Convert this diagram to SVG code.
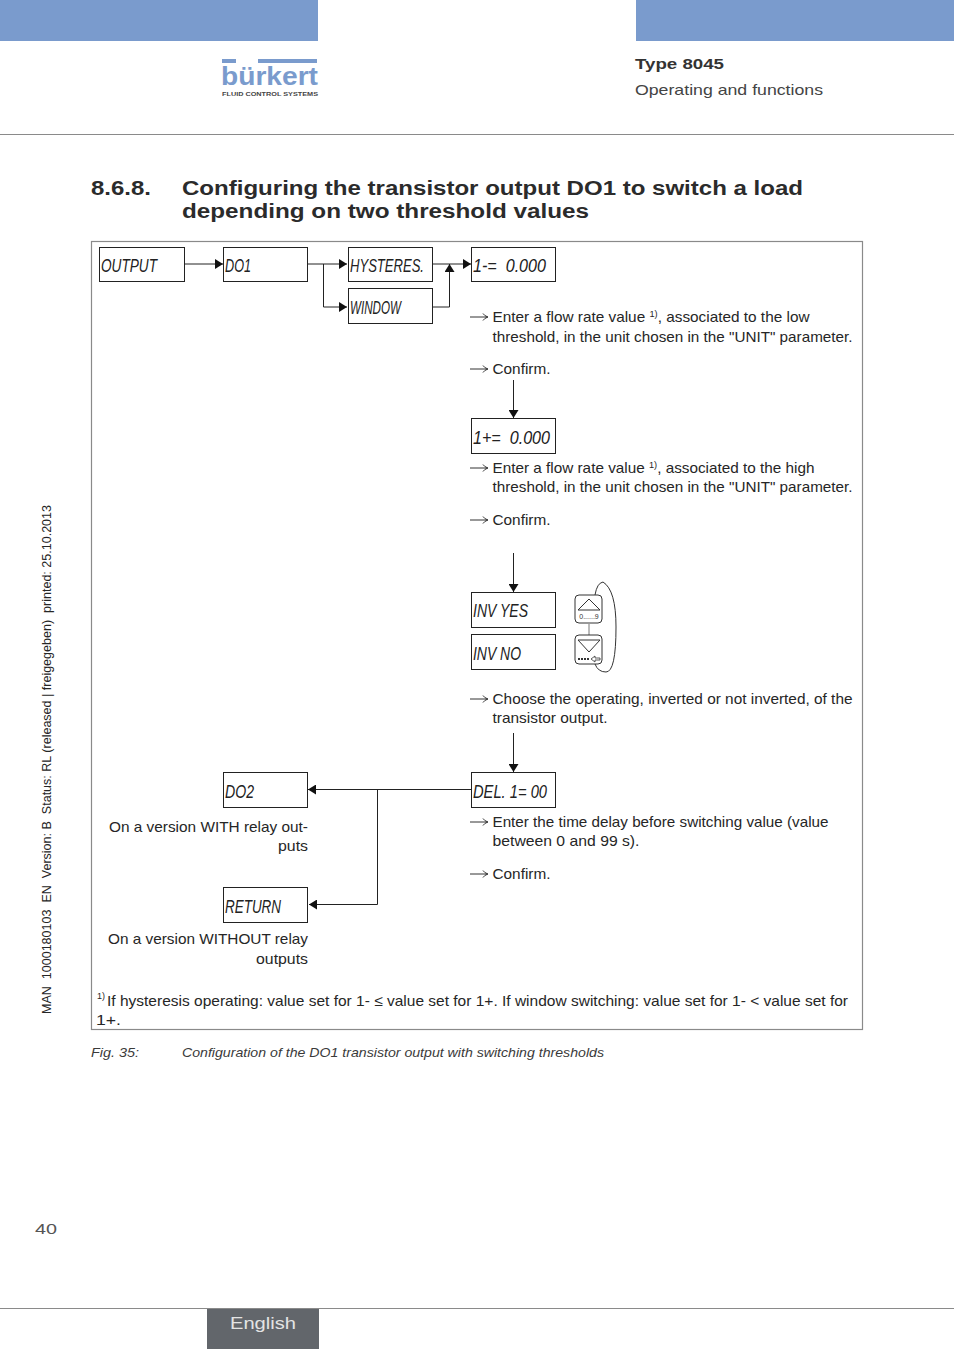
<svg xmlns="http://www.w3.org/2000/svg" width="954" height="1350" viewBox="0 0 954 1350">
<style>
text{font-family:"Liberation Sans",Arial,sans-serif;fill:#262626}
.b{font-size:15px}
.h{font-size:20px;font-weight:bold;fill:#2b2b2b}
.cap{font-size:13.5px;font-style:italic;fill:#3a3a3a}
.lcd{font-style:italic;font-size:18px;fill:#222;white-space:pre}
.box{fill:#fff;stroke:#222;stroke-width:1}
.c{fill:none;stroke:#222;stroke-width:1}
.ar{fill:none;stroke:#333;stroke-width:1}
</style>
<defs>
<marker id="a" markerWidth="9" markerHeight="10" refX="8" refY="5" orient="auto" markerUnits="userSpaceOnUse"><path d="M0 0L8 5L0 10z" fill="#111"/></marker>
<path id="t" d="M0 0H17.500M13 -3.500Q14.500 -1 18 0Q14.500 1 13 3.500" class="ar"/>
</defs>
<g id="page">
<rect x="0" y="0" width="318" height="41" fill="#7a9bcd"/>
<rect x="636" y="0" width="318" height="41" fill="#7a9bcd"/>
<line x1="0" y1="134.500" x2="954" y2="134.500" stroke="#8a8a8a"/>
<line x1="0" y1="1308.500" x2="954" y2="1308.500" stroke="#8a8a8a"/>
<rect x="207" y="1309" width="112" height="40" fill="#62666b"/>
<text x="230" y="1329" font-size="16" style="fill:#e4e4e4" textLength="66" lengthAdjust="spacingAndGlyphs">English</text>
<text x="35" y="1234" font-size="14" textLength="22" lengthAdjust="spacingAndGlyphs" style="fill:#555">40</text>
<text transform="translate(51,1014) rotate(-90)" font-size="12" textLength="509" lengthAdjust="spacingAndGlyphs" style="white-space:pre">MAN  1000180103  EN  Version: B  Status: RL (released | freigegeben)  printed: 25.10.2013</text>
<g id="logo">
<rect x="222" y="59" width="14" height="4" fill="#7a9bcd"/><rect x="258" y="59" width="59" height="4" fill="#7a9bcd"/>
<text x="221" y="85" font-size="26" font-weight="bold" style="fill:#7a9bcd" textLength="97" lengthAdjust="spacingAndGlyphs">bürkert</text>
<text x="222" y="95.500" font-size="5.500" font-weight="bold" style="fill:#444" textLength="96" lengthAdjust="spacingAndGlyphs">FLUID CONTROL SYSTEMS</text>
</g>
<text x="635" y="69" font-size="15" font-weight="bold" textLength="89" lengthAdjust="spacingAndGlyphs" style="fill:#333">Type 8045</text>
<text x="635" y="95" font-size="15" textLength="188" lengthAdjust="spacingAndGlyphs" style="fill:#444">Operating and functions</text>
<text x="91" y="195" class="h" textLength="60" lengthAdjust="spacingAndGlyphs">8.6.8.</text>
<text x="182" y="195" class="h" textLength="621" lengthAdjust="spacingAndGlyphs">Configuring the transistor output DO1 to switch a load</text>
<text x="182" y="218" class="h" textLength="407" lengthAdjust="spacingAndGlyphs">depending on two threshold values</text>
<rect x="91.500" y="241.500" width="771" height="788" fill="none" stroke="#8a8a8a" stroke-width="1.200"/>
<text x="91" y="1057" class="cap" textLength="48" lengthAdjust="spacingAndGlyphs">Fig. 35:</text>
<text x="182" y="1057" class="cap" textLength="422" lengthAdjust="spacingAndGlyphs">Configuration of the DO1 transistor output with switching thresholds</text>
</g>
<g id="connectors">
<path class="c" d="M185 264H223" marker-end="url(#a)"/>
<path class="c" d="M308 264H347" marker-end="url(#a)"/>
<path class="c" d="M323.500 264V307H347" marker-end="url(#a)"/>
<path class="c" d="M433 264H471" marker-end="url(#a)"/>
<path class="c" d="M433 307H449.500V264" marker-end="url(#a)"/>
<path class="c" d="M513.500 380V418" marker-end="url(#a)"/>
<path class="c" d="M513.500 553V592" marker-end="url(#a)"/>
<path class="c" d="M513.500 733V772" marker-end="url(#a)"/>
<path class="c" d="M471 789.500H308" marker-end="url(#a)"/>
<path class="c" d="M377.500 789.500V904.500H309" marker-end="url(#a)"/>
</g>
<g id="n-output"><rect class="box" x="99.500" y="247.500" width="85" height="34"/><text class="lcd" x="101" y="272" textLength="56" lengthAdjust="spacingAndGlyphs">OUTPUT</text></g>
<g id="n-do1"><rect class="box" x="223.500" y="247.500" width="84" height="34"/><text class="lcd" x="225" y="272" textLength="26" lengthAdjust="spacingAndGlyphs">DO1</text></g>
<g id="n-hysteres"><rect class="box" x="348.500" y="247.500" width="84" height="34"/><text class="lcd" x="350" y="272" textLength="74" lengthAdjust="spacingAndGlyphs">HYSTERES.</text></g>
<g id="n-window"><rect class="box" x="348.500" y="288.500" width="84" height="35"/><text class="lcd" x="350" y="314" textLength="51" lengthAdjust="spacingAndGlyphs">WINDOW</text></g>
<g id="n-low"><rect class="box" x="471.500" y="247.500" width="84" height="34"/><text class="lcd" x="473" y="272" textLength="73" lengthAdjust="spacingAndGlyphs">1-=  0.000</text></g>
<g id="n-high"><rect class="box" x="471.500" y="418.500" width="84" height="35"/><text class="lcd" x="473" y="444" textLength="77" lengthAdjust="spacingAndGlyphs">1+=  0.000</text></g>
<g id="n-invyes"><rect class="box" x="471.500" y="592.500" width="84" height="35"/><text class="lcd" x="473" y="617" textLength="55" lengthAdjust="spacingAndGlyphs">INV YES</text></g>
<g id="n-invno"><rect class="box" x="471.500" y="634.500" width="84" height="35"/><text class="lcd" x="473" y="660" textLength="48" lengthAdjust="spacingAndGlyphs">INV NO</text></g>
<g id="n-del"><rect class="box" x="471.500" y="772.500" width="84" height="35"/><text class="lcd" x="473" y="798" textLength="74" lengthAdjust="spacingAndGlyphs">DEL. 1= 00</text></g>
<g id="n-do2"><rect class="box" x="223.500" y="772.500" width="84" height="35"/><text class="lcd" x="225" y="798" textLength="29" lengthAdjust="spacingAndGlyphs">DO2</text></g>
<g id="n-return"><rect class="box" x="223.500" y="887.500" width="84" height="35"/><text class="lcd" x="225" y="913" textLength="56" lengthAdjust="spacingAndGlyphs">RETURN</text></g>
<g id="keys">
<path d="M595 595Q597 583 603 582Q616 590 616 627Q616 672 606 672Q598 672 595 664" fill="none" stroke="#333"/>
<line x1="589" y1="624" x2="589" y2="635" stroke="#777"/>
<rect x="575" y="595" width="27" height="28" rx="4" fill="#fff" stroke="#333"/>
<path d="M578 610L589 599L600 610Z" fill="none" stroke="#333"/>
<text x="589" y="619" text-anchor="middle" font-size="7" style="fill:#333">0......9</text>
<rect x="575" y="635" width="27" height="29" rx="4" fill="#fff" stroke="#333"/>
<path d="M578 640L589 652L600 640Z" fill="none" stroke="#333"/>
<path d="M578 659H590" stroke="#333" stroke-width="2" stroke-dasharray="2 1"/>
<path d="M591 659L595 656V658H600V660H595V662Z" fill="none" stroke="#333" stroke-width=".8"/>
</g>
<g id="labels">
<use href="#t" x="470" y="317"/>
<text x="492.500" y="322" class="b" textLength="317" lengthAdjust="spacingAndGlyphs">Enter a flow rate value <tspan font-size="9" dy="-5">1)</tspan><tspan dy="5">, associated to the low</tspan></text>
<text x="492.500" y="342" class="b" textLength="360" lengthAdjust="spacingAndGlyphs">threshold, in the unit chosen in the "UNIT" parameter.</text>
<use href="#t" x="470" y="369"/>
<text x="492.500" y="374" class="b" textLength="58" lengthAdjust="spacingAndGlyphs">Confirm.</text>
<use href="#t" x="470" y="468"/>
<text x="492.500" y="473" class="b" textLength="322" lengthAdjust="spacingAndGlyphs">Enter a flow rate value <tspan font-size="9" dy="-5">1)</tspan><tspan dy="5">, associated to the high</tspan></text>
<text x="492.500" y="492" class="b" textLength="360" lengthAdjust="spacingAndGlyphs">threshold, in the unit chosen in the "UNIT" parameter.</text>
<use href="#t" x="470" y="520"/>
<text x="492.500" y="525" class="b" textLength="58" lengthAdjust="spacingAndGlyphs">Confirm.</text>
<use href="#t" x="470" y="699"/>
<text x="492.500" y="704" class="b" textLength="360" lengthAdjust="spacingAndGlyphs">Choose the operating, inverted or not inverted, of the</text>
<text x="492.500" y="723" class="b" textLength="115" lengthAdjust="spacingAndGlyphs">transistor output.</text>
<use href="#t" x="470" y="822"/>
<text x="492.500" y="827" class="b" textLength="336" lengthAdjust="spacingAndGlyphs">Enter the time delay before switching value (value</text>
<text x="492.500" y="846" class="b" textLength="147" lengthAdjust="spacingAndGlyphs">between 0 and 99 s).</text>
<use href="#t" x="470" y="874"/>
<text x="492.500" y="879" class="b" textLength="58" lengthAdjust="spacingAndGlyphs">Confirm.</text>
<text x="308" y="832" class="b" text-anchor="end" textLength="199" lengthAdjust="spacingAndGlyphs">On a version WITH relay out-</text>
<text x="308" y="851" class="b" text-anchor="end" textLength="30" lengthAdjust="spacingAndGlyphs">puts</text>
<text x="308" y="944" class="b" text-anchor="end" textLength="200" lengthAdjust="spacingAndGlyphs">On a version WITHOUT relay</text>
<text x="308" y="964" class="b" text-anchor="end" textLength="52" lengthAdjust="spacingAndGlyphs">outputs</text>
<text x="97" y="999" font-size="9">1)</text>
<text x="107" y="1006" class="b" textLength="741" lengthAdjust="spacingAndGlyphs">If hysteresis operating: value set for 1- ≤ value set for 1+. If window switching: value set for 1- &lt; value set for</text>
<text x="96" y="1025" class="b" textLength="25" lengthAdjust="spacingAndGlyphs">1+.</text>
</g>
</svg>
